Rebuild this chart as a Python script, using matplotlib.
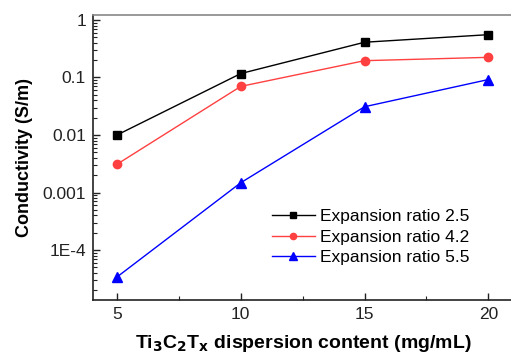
import matplotlib
matplotlib.use('Agg')
import matplotlib.pyplot as plt
import matplotlib.ticker as mticker

content = [5, 10, 15, 20]
ratio_25 = [0.0100, 0.117, 0.41, 0.555]
ratio_42 = [0.0031, 0.070, 0.196, 0.224]
ratio_55 = [3.4e-5, 0.00148, 0.031, 0.092]

ytick_vals = [1e-4, 1e-3, 1e-2, 1e-1, 1]
ytick_labels = ['1E-4', '0.001', '0.01', '0.1', '1']

plt.rcParams['font.family'] = ['Liberation Sans', 'DejaVu Sans']


def main():
    fig = plt.figure(figsize=(5.11, 3.53), dpi=100)
    ax = fig.add_axes([0.182, 0.150, 0.822, 0.8075])

    ax.plot(content, ratio_25, color='black', marker='s', markersize=6,
            linewidth=1.0, label='Expansion ratio 2.5')
    ax.plot(content, ratio_42, color='#ff4040', marker='o', markersize=6,
            linewidth=1.0, label='Expansion ratio 4.2')
    ax.plot(content, ratio_55, color='#0000ff', marker='^', markersize=7,
            linewidth=1.0, label='Expansion ratio 5.5')

    ax.set_yscale('log')
    ax.set_ylim(1.35e-5, 1.22)
    ax.set_xlim(4.03, 21.0)

    ax.set_xticks(content)
    ax.xaxis.set_minor_locator(mticker.MultipleLocator(2.5))
    ax.set_yticks(ytick_vals)
    ax.set_yticklabels(ytick_labels)
    ax.yaxis.set_minor_locator(mticker.LogLocator(base=10, subs=range(2, 10)))
    ax.yaxis.set_minor_formatter(mticker.NullFormatter())

    ax.tick_params(which='major', direction='in', length=5, width=1,
                   labelsize=12.5, colors='#222222', pad=5)
    ax.tick_params(which='minor', direction='in', length=3, width=0.8,
                   colors='#222222')
    ax.tick_params(top=False, right=False, which='both')

    for side in ['left', 'bottom']:
        ax.spines[side].set_color('#222222')
        ax.spines[side].set_linewidth(1.2)
    ax.spines['top'].set_color('#888888')
    ax.spines['top'].set_linewidth(1.2)
    ax.spines['right'].set_visible(False)

    ax.set_ylabel('Conductivity (S/m)', fontsize=13, fontweight='bold',
                  labelpad=7)
    ax.set_xlabel(r'Ti$_\mathbf{3}$C$_\mathbf{2}$T$_\mathbf{x}$ dispersion content (mg/mL)',
                  fontsize=14, fontweight='bold', labelpad=8)

    ax.legend(loc='upper left', bbox_to_anchor=(0.425, 0.32), frameon=False,
              fontsize=12.5, handlelength=2.5, handletextpad=0.3,
              labelspacing=0.32, borderpad=0, borderaxespad=0,
              markerscale=0.75)

    fig.savefig('out.png', dpi=100)


if __name__ == "__main__":
    main()
